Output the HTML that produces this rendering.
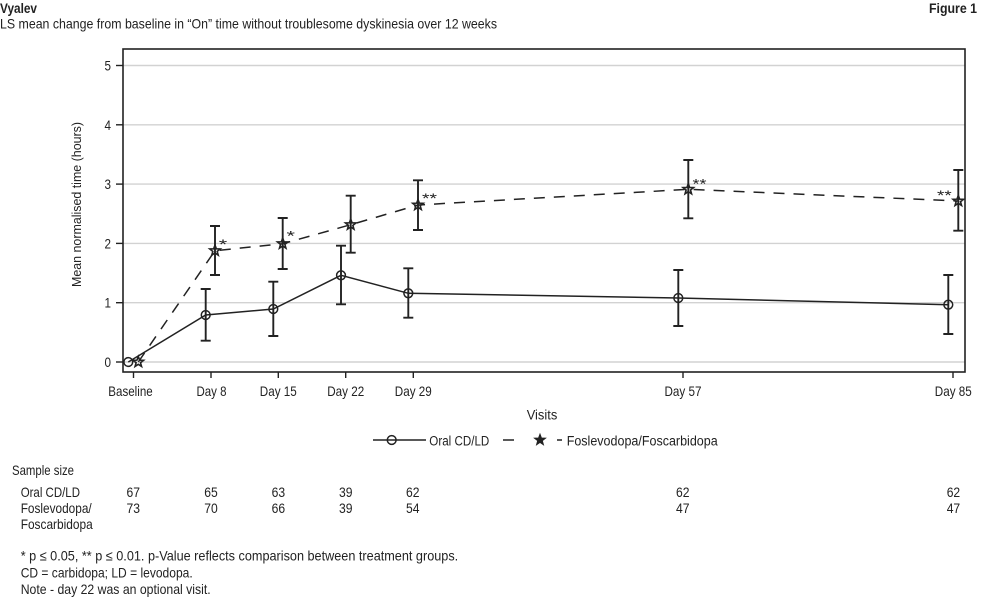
<!DOCTYPE html>
<html>
<head>
<meta charset="utf-8">
<style>
  html, body { margin: 0; padding: 0; background: #fff; }
  svg { display: block; }
  text { font-family: "Liberation Sans Narrow", "Liberation Sans", sans-serif; fill: #222; font-size: 14px; }
  .b { font-weight: bold; }
  .ax { font-size: 13.5px; }
</style>
</head>
<body>
<svg width="983" height="600" viewBox="0 0 983 600" xmlns="http://www.w3.org/2000/svg">
  <defs>
    <polygon id="star" points="0,-5.5 1.35,-1.86 5.23,-1.70 2.19,0.71 3.23,4.45 0,2.3 -3.23,4.45 -2.19,0.71 -5.23,-1.70 -1.35,-1.86"/>
  </defs>

  <!-- Header -->
  <text class="b" x="0" y="13" textLength="37" lengthAdjust="spacingAndGlyphs">Vyalev</text>
  <text x="0" y="28.5" textLength="497" lengthAdjust="spacingAndGlyphs">LS mean change from baseline in “On” time without troublesome dyskinesia over 12 weeks</text>
  <text class="b" x="929" y="13" textLength="48" lengthAdjust="spacingAndGlyphs">Figure 1</text>

  <!-- Gridlines -->
  <g stroke="#d2d2d2" stroke-width="1.4">
    <line x1="123" y1="65.5" x2="965" y2="65.5"/>
    <line x1="123" y1="124.8" x2="965" y2="124.8"/>
    <line x1="123" y1="184.1" x2="965" y2="184.1"/>
    <line x1="123" y1="243.4" x2="965" y2="243.4"/>
    <line x1="123" y1="302.7" x2="965" y2="302.7"/>
    <line x1="123" y1="362" x2="965" y2="362"/>
  </g>

  <!-- Frame -->
  <rect x="123" y="49" width="842" height="323" fill="none" stroke="#222" stroke-width="1.6"/>

  <!-- Y ticks -->
  <g stroke="#222" stroke-width="1.4">
    <line x1="116" y1="65.5" x2="123" y2="65.5"/>
    <line x1="116" y1="124.8" x2="123" y2="124.8"/>
    <line x1="116" y1="184.1" x2="123" y2="184.1"/>
    <line x1="116" y1="243.4" x2="123" y2="243.4"/>
    <line x1="116" y1="302.7" x2="123" y2="302.7"/>
    <line x1="116" y1="362" x2="123" y2="362"/>
  </g>
  <g class="ax">
    <text x="104.5" y="70.5" textLength="6.5" lengthAdjust="spacingAndGlyphs">5</text>
    <text x="104.5" y="129.8" textLength="6.5" lengthAdjust="spacingAndGlyphs">4</text>
    <text x="104.5" y="189.1" textLength="6.5" lengthAdjust="spacingAndGlyphs">3</text>
    <text x="104.5" y="248.4" textLength="6.5" lengthAdjust="spacingAndGlyphs">2</text>
    <text x="104.5" y="307.7" textLength="6.5" lengthAdjust="spacingAndGlyphs">1</text>
    <text x="104.5" y="367" textLength="6.5" lengthAdjust="spacingAndGlyphs">0</text>
  </g>

  <!-- Y label -->
  <text style="font-size:13px" transform="translate(81,287) rotate(-90)" x="0" y="0" textLength="165" lengthAdjust="spacingAndGlyphs">Mean normalised time (hours)</text>

  <!-- X ticks -->
  <g stroke="#222" stroke-width="1.4">
    <line x1="133.5" y1="372" x2="133.5" y2="378"/>
    <line x1="211" y1="372" x2="211" y2="378"/>
    <line x1="278.3" y1="372" x2="278.3" y2="378"/>
    <line x1="345.7" y1="372" x2="345.7" y2="378"/>
    <line x1="413.3" y1="372" x2="413.3" y2="378"/>
    <line x1="683" y1="372" x2="683" y2="378"/>
    <line x1="953" y1="372" x2="953" y2="378"/>
  </g>
  <g class="ax">
    <text x="108.3" y="396" textLength="44.4" lengthAdjust="spacingAndGlyphs">Baseline</text>
    <text x="196.5" y="396" textLength="30" lengthAdjust="spacingAndGlyphs">Day 8</text>
    <text x="259.8" y="396" textLength="37" lengthAdjust="spacingAndGlyphs">Day 15</text>
    <text x="327.2" y="396" textLength="37" lengthAdjust="spacingAndGlyphs">Day 22</text>
    <text x="394.8" y="396" textLength="37" lengthAdjust="spacingAndGlyphs">Day 29</text>
    <text x="664.5" y="396" textLength="37" lengthAdjust="spacingAndGlyphs">Day 57</text>
    <text x="934.8" y="396" textLength="37" lengthAdjust="spacingAndGlyphs">Day 85</text>
  </g>
  <text class="ax" x="526.7" y="419.5" textLength="30.6" lengthAdjust="spacingAndGlyphs">Visits</text>

  <!-- Series lines -->
  <polyline fill="none" stroke="#222" stroke-width="1.5"
    points="128.3,362 205.7,315 273.3,309 341,275.3 408.3,293.3 678.3,298 948.3,304.7"/>
  <polyline fill="none" stroke="#222" stroke-width="1.5" stroke-dasharray="11 9"
    points="138.3,362 215,250.7 282.7,243.7 350.7,224.7 418,205 688.3,189.3 958.3,201"/>

  <!-- Error bars -->
  <g stroke="#222" stroke-width="1.9" fill="none">
    <path d="M205.7,289 V340.7 M200.7,289 H210.7 M200.7,340.7 H210.7"/>
    <path d="M273.3,281.7 V336 M268.3,281.7 H278.3 M268.3,336 H278.3"/>
    <path d="M341,245.7 V304.3 M336,245.7 H346 M336,304.3 H346"/>
    <path d="M408.3,268.3 V317.7 M403.3,268.3 H413.3 M403.3,317.7 H413.3"/>
    <path d="M678.3,270 V326 M673.3,270 H683.3 M673.3,326 H683.3"/>
    <path d="M948.3,275 V334 M943.3,275 H953.3 M943.3,334 H953.3"/>
    <path d="M215,226 V275 M210,226 H220 M210,275 H220"/>
    <path d="M282.7,218 V269 M277.7,218 H287.7 M277.7,269 H287.7"/>
    <path d="M350.7,195.7 V252.7 M345.7,195.7 H355.7 M345.7,252.7 H355.7"/>
    <path d="M418,180.3 V230 M413,180.3 H423 M413,230 H423"/>
    <path d="M688.3,160 V218.3 M683.3,160 H693.3 M683.3,218.3 H693.3"/>
    <path d="M958.3,170 V230.7 M953.3,170 H963.3 M953.3,230.7 H963.3"/>
  </g>

  <!-- Circle markers -->
  <g fill="none" stroke="#222" stroke-width="1.5">
    <circle cx="128.3" cy="362" r="4.4"/>
    <circle cx="205.7" cy="315" r="4.4"/>
    <circle cx="273.3" cy="309" r="4.4"/>
    <circle cx="341" cy="275.3" r="4.4"/>
    <circle cx="408.3" cy="293.3" r="4.4"/>
    <circle cx="678.3" cy="298" r="4.4"/>
    <circle cx="948.3" cy="304.7" r="4.4"/>
  </g>

  <!-- Star markers -->
  <g fill="none" stroke="#222" stroke-width="1.6" stroke-linejoin="miter">
    <use href="#star" x="138.3" y="362"/>
    <use href="#star" x="215" y="250.7"/>
    <use href="#star" x="282.7" y="243.7"/>
    <use href="#star" x="350.7" y="224.7"/>
    <use href="#star" x="418" y="205"/>
    <use href="#star" x="688.3" y="189.3"/>
    <use href="#star" x="958.3" y="201"/>
  </g>

  <!-- Significance asterisks -->
  <g style="font-size:16px">
    <text x="218.8" y="249" textLength="8.5" lengthAdjust="spacingAndGlyphs">*</text>
    <text x="286.5" y="240.7" textLength="8.5" lengthAdjust="spacingAndGlyphs">*</text>
    <text x="422" y="203" textLength="15" lengthAdjust="spacingAndGlyphs">**</text>
    <text x="692.5" y="188.3" textLength="14" lengthAdjust="spacingAndGlyphs">**</text>
    <text x="937" y="200" textLength="14.7" lengthAdjust="spacingAndGlyphs">**</text>
  </g>

  <!-- Legend -->
  <line x1="373" y1="440" x2="426" y2="440" stroke="#222" stroke-width="1.5"/>
  <circle cx="391.7" cy="440" r="4.4" fill="none" stroke="#222" stroke-width="1.5"/>
  <text class="ax" x="429.3" y="445.5" textLength="60" lengthAdjust="spacingAndGlyphs">Oral CD/LD</text>
  <line x1="503" y1="440" x2="514" y2="440" stroke="#222" stroke-width="1.5"/>
  <use href="#star" x="540" y="440" fill="#222" stroke="#222" stroke-width="1.2"/>
  <line x1="557" y1="440" x2="562" y2="440" stroke="#222" stroke-width="1.5"/>
  <text class="ax" x="566.7" y="445.5" textLength="151" lengthAdjust="spacingAndGlyphs">Foslevodopa/Foscarbidopa</text>

  <!-- Sample size table -->
  <text x="12" y="475" textLength="62" lengthAdjust="spacingAndGlyphs">Sample size</text>
  <text x="20.7" y="497" textLength="59.3" lengthAdjust="spacingAndGlyphs">Oral CD/LD</text>
  <text x="20.7" y="513" textLength="71" lengthAdjust="spacingAndGlyphs">Foslevodopa/</text>
  <text x="20.7" y="529" textLength="72" lengthAdjust="spacingAndGlyphs">Foscarbidopa</text>

  <g>
    <text x="126.5" y="497" textLength="13.5" lengthAdjust="spacingAndGlyphs">67</text>
    <text x="204.3" y="497" textLength="13.5" lengthAdjust="spacingAndGlyphs">65</text>
    <text x="271.6" y="497" textLength="13.5" lengthAdjust="spacingAndGlyphs">63</text>
    <text x="339" y="497" textLength="13.5" lengthAdjust="spacingAndGlyphs">39</text>
    <text x="406" y="497" textLength="13.5" lengthAdjust="spacingAndGlyphs">62</text>
    <text x="676" y="497" textLength="13.5" lengthAdjust="spacingAndGlyphs">62</text>
    <text x="946.7" y="497" textLength="13.5" lengthAdjust="spacingAndGlyphs">62</text>

    <text x="126.5" y="513" textLength="13.5" lengthAdjust="spacingAndGlyphs">73</text>
    <text x="204.3" y="513" textLength="13.5" lengthAdjust="spacingAndGlyphs">70</text>
    <text x="271.6" y="513" textLength="13.5" lengthAdjust="spacingAndGlyphs">66</text>
    <text x="339" y="513" textLength="13.5" lengthAdjust="spacingAndGlyphs">39</text>
    <text x="406" y="513" textLength="13.5" lengthAdjust="spacingAndGlyphs">54</text>
    <text x="676" y="513" textLength="13.5" lengthAdjust="spacingAndGlyphs">47</text>
    <text x="946.7" y="513" textLength="13.5" lengthAdjust="spacingAndGlyphs">47</text>
  </g>

  <!-- Footnotes -->
  <text x="20.7" y="560.5" textLength="437.5" lengthAdjust="spacingAndGlyphs">* p ≤ 0.05, ** p ≤ 0.01. p-Value reflects comparison between treatment groups.</text>
  <text x="20.7" y="577.5" textLength="172" lengthAdjust="spacingAndGlyphs">CD = carbidopa; LD = levodopa.</text>
  <text x="20.7" y="594" textLength="190" lengthAdjust="spacingAndGlyphs">Note - day 22 was an optional visit.</text>
</svg>
</body>
</html>
